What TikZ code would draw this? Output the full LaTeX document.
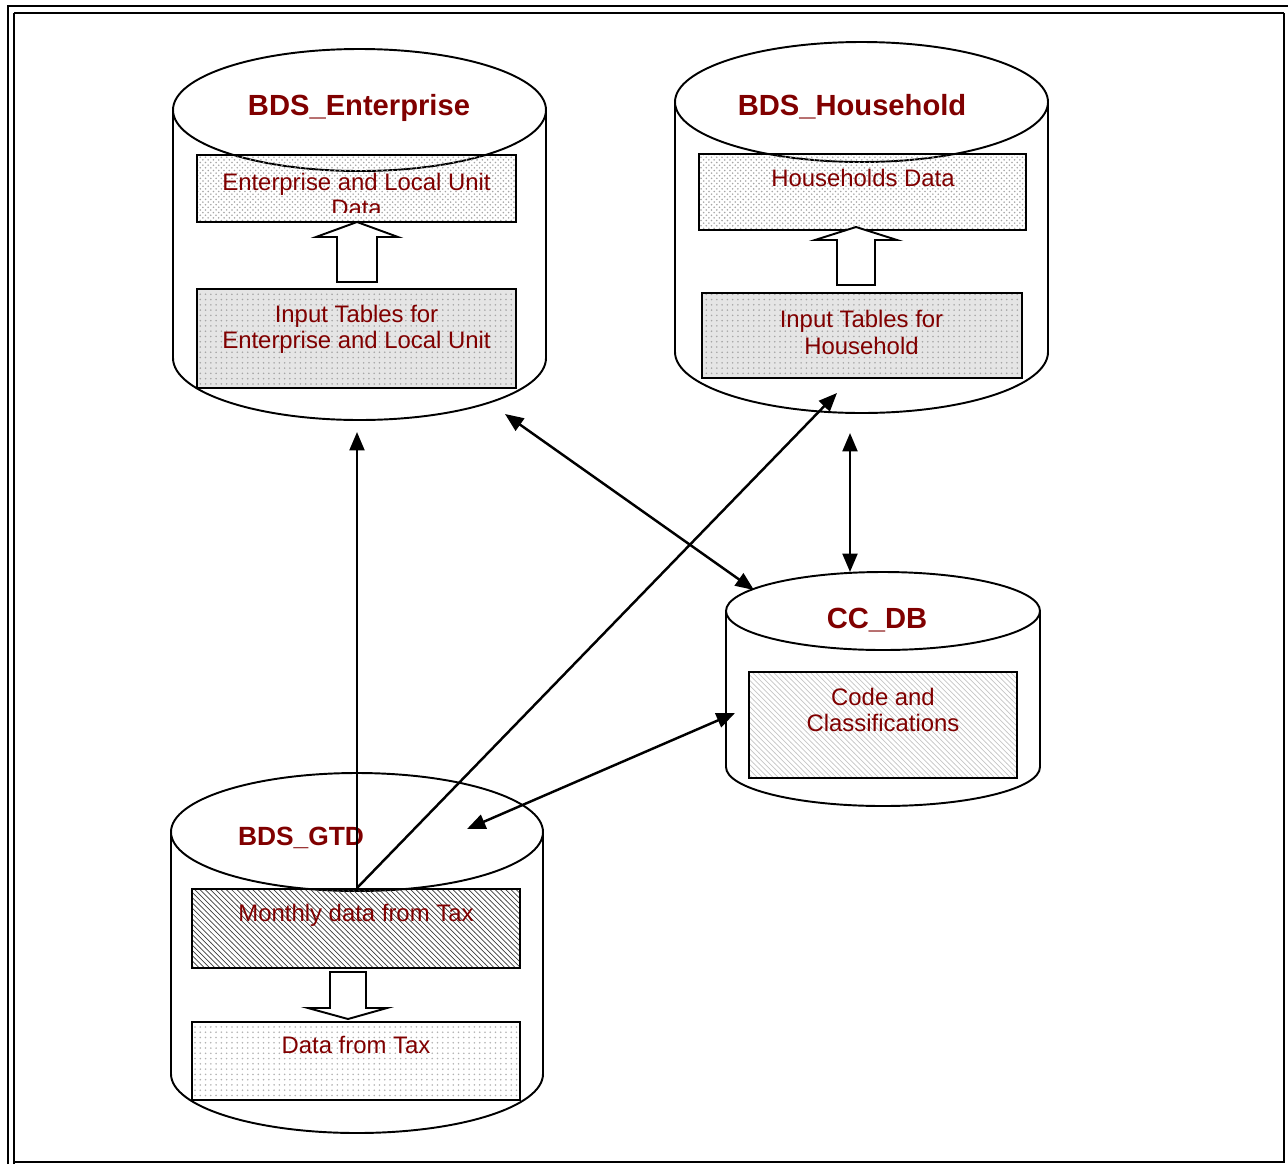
\documentclass[tikz,border=0pt]{standalone}
\usepackage{fontspec}
\setmainfont{Liberation Sans}
\usetikzlibrary{patterns,arrows.meta}
\definecolor{dbred}{RGB}{128,0,0}
\tikzset{
	dbline/.style={line width=1.1pt},
	dbtitle/.style={font=\fontsize{16.6}{19}\selectfont\bfseries, text=dbred, inner sep=0pt, anchor=base},
	dbtext/.style={font=\fontsize{13.6}{15.2}\selectfont, text=dbred, inner sep=0pt, align=center, anchor=north},
	dotbox/.style={draw, dbline, pattern=crosshatch dots, pattern color=gray!70},
	finebox/.style={draw, dbline, preaction={fill=gray!20}, pattern=dots, pattern color=gray!70},
	smallbox/.style={draw, dbline, pattern=dots, pattern color=gray!60},
	hatchbox/.style={draw, dbline, pattern=north west lines, pattern color=black!75},
	lighthatch/.style={draw, dbline, pattern=north west lines, pattern color=gray!45},
	blockarrow/.style={dbline, fill=white, line join=miter},
	link/.style={line width=1.4pt, -{Triangle[length=10.5pt,width=8.5pt]}},
	dlink/.style={line width=1.4pt, {Triangle[length=10.5pt,width=8.5pt]}-{Triangle[length=10.5pt,width=8.5pt]}}
}

\begin{document}
\begin{tikzpicture}[x=0.02cm, y=-0.02cm]
	
	\fill[white] (0,0) rectangle (1288,1164);
	\useasboundingbox (0,0) rectangle (1288,1164);
	
	% frame
	\draw[line width=1.5pt] (8,1164) -- (8,6) -- (1288,6);
	\draw[line width=1pt] (14,13) -- (1284,13);
	\draw[line width=1pt] (14,1164) -- (14,13);
	\draw[line width=1.6pt] (1284,13) -- (1284,1162) -- (14,1162);
	
	% cylinders
	\draw[dbline, fill=white] (173,110) -- (173,358) arc (180:0:186.5 and 62) -- (546,110);
	\draw[dbline, fill=white] (359.5,110) ellipse (186.5 and 61);
	\draw[dbline, fill=white] (675,102) -- (675,352) arc (180:0:186.5 and 61) -- (1048,102);
	\draw[dbline, fill=white] (861.5,102) ellipse (186.5 and 60);
	\draw[dbline, fill=white] (726,611) -- (726,767) arc (180:0:157 and 39) -- (1040,611);
	\draw[dbline, fill=white] (883,611) ellipse (157 and 39);
	\draw[dbline, fill=white] (171,832) -- (171,1074) arc (180:0:186 and 59) -- (543,832);
	\draw[dbline, fill=white] (357,832) ellipse (186 and 59);
	
	\node[dbtitle] (enttitle) at (359,115) {BDS\_Enterprise};
	\node[dbtitle] (hhtitle) at (852,115) {BDS\_Household};
	\node[dbtitle] (cctitle) at (877,628) {CC\_DB};
	\node[dbtitle, font=\fontsize{15}{18}\selectfont\bfseries] (gtdtitle) at (301,845) {BDS\_GTD};
	
	% tables
	\draw[dotbox] (197,155) rectangle (516,222);
	\draw[finebox] (197,289) rectangle (516,388);
	\draw[dotbox] (699,154) rectangle (1026,230);
	\draw[finebox] (702,293) rectangle (1022,378);
	\draw[lighthatch] (749,672) rectangle (1017,778);
	\draw[hatchbox] (192,889) rectangle (520,968);
	\draw[smallbox] (192,1022) rectangle (520,1100);
	
	\begin{scope}
		\clip (197,155) rectangle (516,212);
		\node[dbtext] (entdata) at (356.5,172.5) {Enterprise and Local Unit\\Data};
	\end{scope}
	\node[dbtext] (entinput) at (356.5,304.5) {Input Tables for\\Enterprise and Local Unit};
	\node[dbtext] (hhdata) at (863,168.5) {Households Data};
	\node[dbtext] (hhinput) at (861.5,310) {Input Tables for\\Household};
	\node[dbtext] (codes) at (883,687.5) {Code and\\Classifications};
	\node[dbtext] (monthly) at (356,904) {Monthly data from Tax};
	\node[dbtext] (taxdata) at (356,1036) {Data from Tax};
	
	% block arrows
	\draw[blockarrow] (337,282) -- (337,237) -- (316,237) -- (357,222) -- (398,237) -- (377,237) -- (377,282) -- cycle;
	\draw[blockarrow] (837,285) -- (837,240) -- (815,240) -- (856,227) -- (897,240) -- (875,240) -- (875,285) -- cycle;
	\draw[blockarrow] (330,972) -- (330,1008) -- (308,1008) -- (348,1019) -- (387,1008) -- (366,1008) -- (366,972) -- cycle;
	
	% links
	\coordinate (gtdout) at (357,888);
	\coordinate (entin) at (357,432);
	\coordinate (hhin) at (837,393);
	\coordinate (entcc) at (505,414);
	\coordinate (ccent) at (754,590);
	\coordinate (hhcc) at (850,433);
	\coordinate (cchh) at (850,572);
	\coordinate (ccgtd) at (735,713);
	\coordinate (gtdcc) at (467,829);
	
	\draw[link] (gtdout) -- (entin);
	\draw[link] (gtdout) -- (hhin);
	\draw[dlink] (entcc) -- (ccent);
	\draw[dlink] (hhcc) -- (cchh);
	\draw[dlink] (ccgtd) -- (gtdcc);
	
\end{tikzpicture}
\end{document}
